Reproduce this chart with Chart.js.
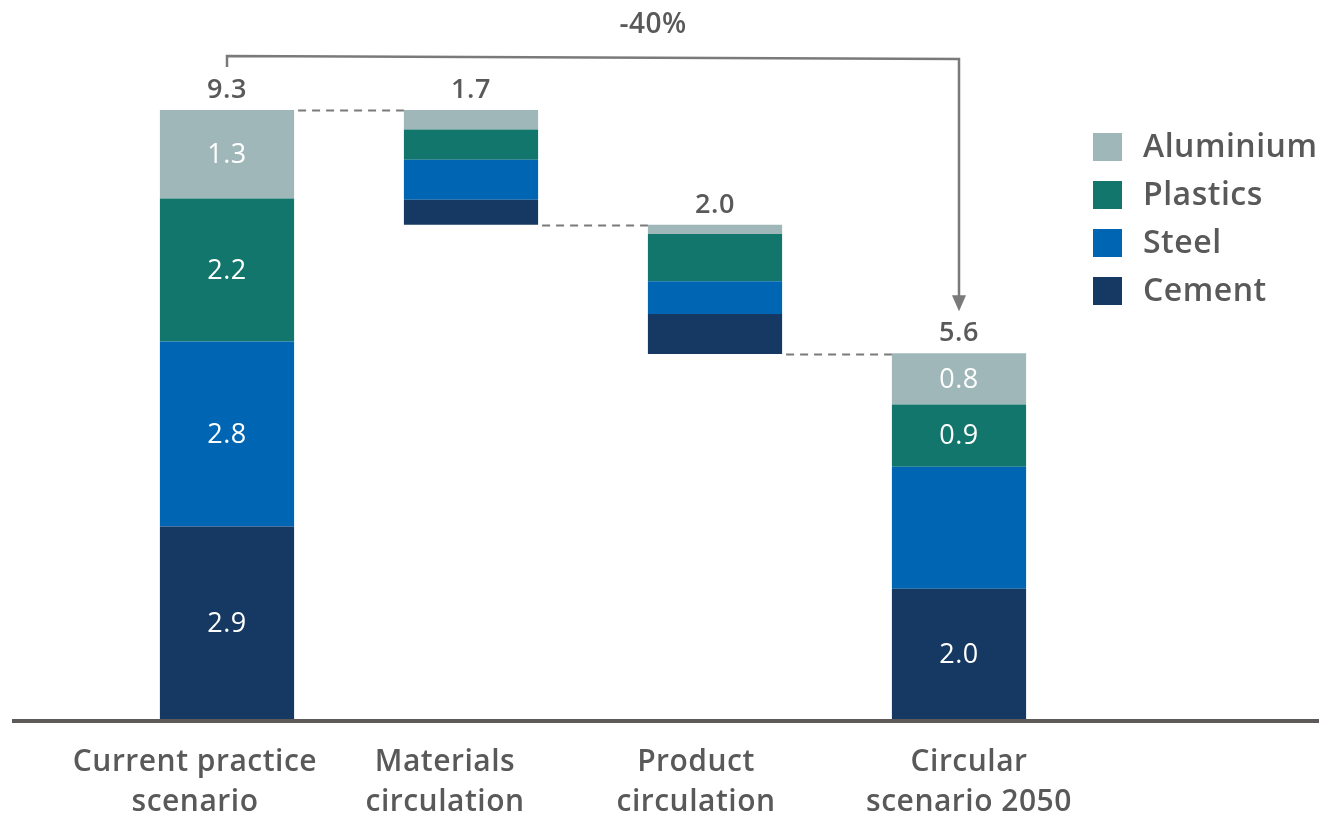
<!DOCTYPE html>
<html>
<head>
<meta charset="utf-8">
<script src="https://cdn.jsdelivr.net/npm/chart.js@4"></script>
<style>
  html, body { margin: 0; padding: 0; background: #fff; }
  #wrap { width: 1319px; height: 819px; }
</style>
</head>
<body>
<div id="wrap"><canvas id="chart" width="1319" height="819"></canvas></div>
<script>
const categories = [
  ['Current practice', 'scenario'],
  ['Materials', 'circulation'],
  ['Product', 'circulation'],
  ['Circular', 'scenario 2050'],
];
// invisible offset so the middle bars float (waterfall)
const base = [0, 7.55, 5.58, 0];
const cement = [2.95, 0.38, 0.61, 2.0];
const steel = [2.82, 0.61, 0.5, 1.86];
const plastics = [2.18, 0.46, 0.72, 0.95];
const aluminium = [1.35, 0.3, 0.14, 0.78];
const totalLabels = ['9.3', '1.7', '2.0', '5.6'];
const cementLabels = ['2.9', '', '', '2.0'];
const steelLabels = ['2.8', '', '', ''];
const plasticsLabels = ['2.2', '', '', '0.9'];
const aluminiumLabels = ['1.3', '', '', '0.8'];
const changeLabel = '-40%';

const COLORS = {
  aluminium: '#9fb7b8',
  plastics: '#12766d',
  steel: '#0066b3',
  cement: '#163963',
};
const TEXT = '#595959';
const LINE = '#7a7a7a';
const FONT = '"Open Sans", Lato, sans-serif';
// category labels in the original sit a little off the bar centres
const LABEL_SHIFT = [-32, -26, -19, 10];

const series = [
  { label: 'Cement', data: cement, color: COLORS.cement, labels: cementLabels },
  { label: 'Steel', data: steel, color: COLORS.steel, labels: steelLabels },
  { label: 'Plastics', data: plastics, color: COLORS.plastics, labels: plasticsLabels },
  { label: 'Aluminium', data: aluminium, color: COLORS.aluminium, labels: aluminiumLabels },
];

const overlay = {
  id: 'overlay',
  afterDatasetsDraw(chart) {
    const { ctx, scales } = chart;
    const x = scales.x;
    const y = scales.y;
    const bars = chart.getDatasetMeta(1).data;
    const half = bars[0].width / 2;
    const tops = base.map((b, i) => b + cement[i] + steel[i] + plastics[i] + aluminium[i]);

    ctx.save();
    ctx.letterSpacing = '0.5px';

    // segment labels
    ctx.font = '27px ' + FONT;
    ctx.fillStyle = '#ffffff';
    ctx.textAlign = 'center';
    ctx.textBaseline = 'middle';
    series.forEach((s, si) => {
      const meta = chart.getDatasetMeta(si + 1);
      meta.data.forEach((bar, i) => {
        const t = s.labels[i];
        if (!t) return;
        ctx.fillText(t, bar.x, (bar.y + bar.base) / 2 + 1);
      });
    });

    // totals
    ctx.fillStyle = TEXT;
    ctx.font = '600 27px ' + FONT;
    ctx.textBaseline = 'alphabetic';
    tops.forEach((v, i) => {
      ctx.fillText(totalLabels[i], x.getPixelForValue(i), y.getPixelForValue(v) - 12);
    });

    // dashed connectors
    ctx.strokeStyle = LINE;
    ctx.lineWidth = 2;
    ctx.setLineDash([8, 6]);
    const links = [
      [0, tops[0]],
      [1, base[1]],
      [2, base[2]],
    ];
    links.forEach(([i, v]) => {
      const py = Math.round(y.getPixelForValue(v)) + 0.5;
      ctx.beginPath();
      ctx.moveTo(x.getPixelForValue(i) + half + 4, py);
      ctx.lineTo(x.getPixelForValue(i + 1) - half, py);
      ctx.stroke();
    });
    ctx.setLineDash([]);

    // bracket with arrow
    const x0 = x.getPixelForValue(0);
    const x3 = x.getPixelForValue(3);
    const yTop = 56;
    const yStart = y.getPixelForValue(tops[0]) - 43;
    const yEnd = y.getPixelForValue(tops[3]) - 42;
    ctx.lineWidth = 2.5;
    ctx.beginPath();
    ctx.moveTo(x0, yStart);
    ctx.lineTo(x0, yTop);
    ctx.lineTo(x3, yTop + 3);
    ctx.lineTo(x3, yEnd - 10);
    ctx.stroke();
    ctx.fillStyle = LINE;
    ctx.beginPath();
    ctx.moveTo(x3 - 7, yEnd - 16);
    ctx.lineTo(x3 + 7, yEnd - 16);
    ctx.lineTo(x3, yEnd);
    ctx.closePath();
    ctx.fill();

    ctx.fillStyle = TEXT;
    ctx.font = '600 28px ' + FONT;
    ctx.textBaseline = 'middle';
    ctx.fillText(changeLabel, 653, 25);

    // baseline
    const by = y.getPixelForValue(0);
    ctx.fillStyle = '#5f5a5a';
    ctx.fillRect(12, by - 1, chart.width - 12, 4);

    // category labels
    ctx.fillStyle = TEXT;
    ctx.font = '600 30px ' + FONT;
    categories.forEach((lines, i) => {
      lines.forEach((t, li) => {
        ctx.fillText(t, x.getPixelForValue(i) + LABEL_SHIFT[i], by + 42 + li * 40);
      });
    });

    // legend
    ctx.textAlign = 'left';
    ctx.font = '600 32px ' + FONT;
    series.slice().reverse().forEach((s, k) => {
      const cy = 147 + k * 48;
      ctx.fillStyle = s.color;
      ctx.fillRect(1093, cy - 14, 29, 28);
      ctx.fillStyle = TEXT;
      ctx.fillText(s.label, 1143, cy + 1);
    });

    ctx.restore();
  },
};

new Chart(document.getElementById('chart'), {
  type: 'bar',
  data: {
    labels: categories.map((c) => c.join(' ')),
    datasets: [
      { label: 'base', data: base, backgroundColor: 'rgba(0,0,0,0)' },
      ...series.map((s) => ({
        label: s.label,
        data: s.data,
        backgroundColor: s.color,
        borderWidth: 0,
      })),
    ],
  },
  options: {
    responsive: false,
    animation: false,
    layout: { padding: { left: 105, right: 238, top: 64, bottom: 99 } },
    datasets: { bar: { categoryPercentage: 1, barPercentage: 0.55 } },
    plugins: { legend: { display: false }, tooltip: { enabled: false } },
    scales: {
      x: { stacked: true, display: false },
      y: { stacked: true, display: false, min: 0, max: 10 },
    },
  },
  plugins: [overlay],
});
</script>
</body>
</html>
